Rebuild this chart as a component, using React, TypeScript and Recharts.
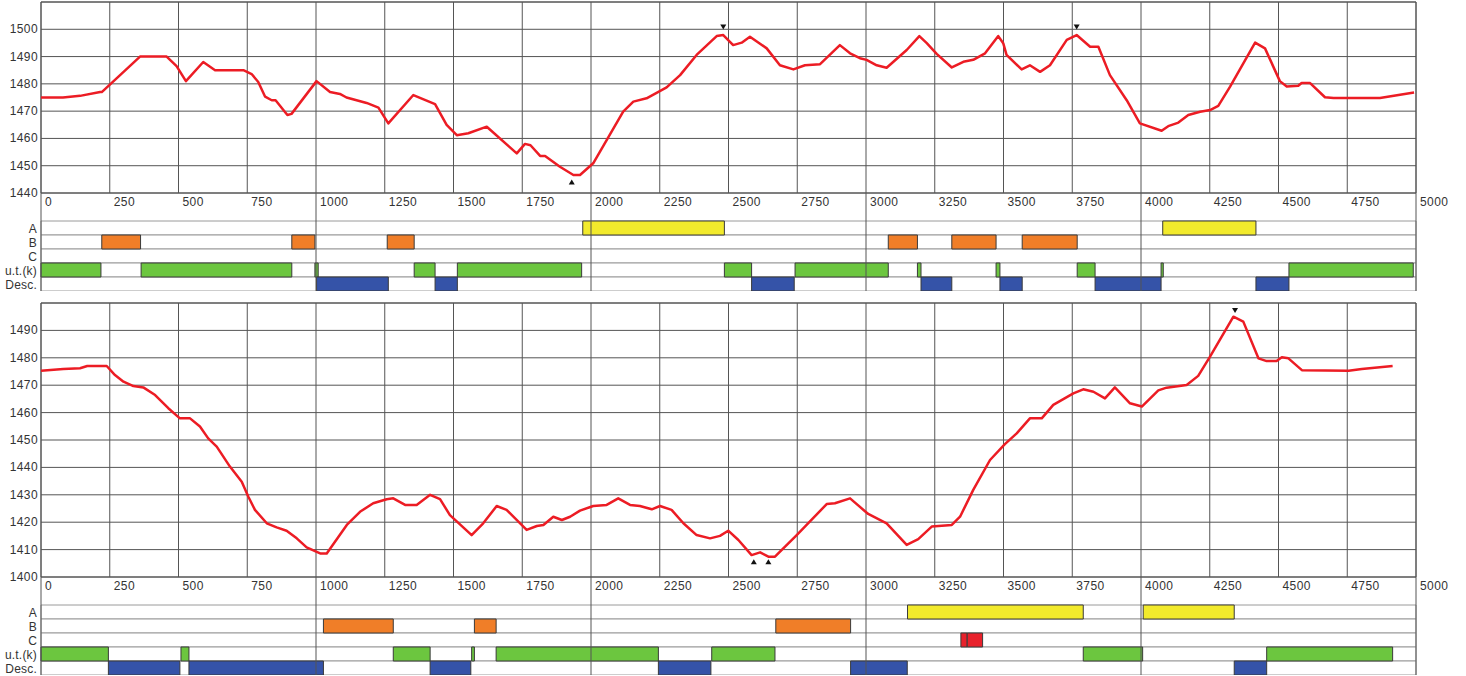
import React from "react";
import { ComposedChart, Line, Scatter, XAxis, YAxis, CartesianGrid, ReferenceArea, ReferenceLine } from "recharts";

// x axis (distance) ticks, shared by both panels
const xTicks = [0, 250, 500, 750, 1000, 1250, 1500, 1750, 2000, 2250, 2500, 2750, 3000, 3250, 3500, 3750, 4000, 4250, 4500, 4750, 5000];
const majorTicks = [0, 1000, 2000, 3000, 4000, 5000];

const topYTicks = [1440, 1450, 1460, 1470, 1480, 1490, 1500];
const bottomYTicks = [1400, 1410, 1420, 1430, 1440, 1450, 1460, 1470, 1480, 1490];

const rowNames = ["A", "B", "C", "u.t.(k)", "Desc."];
const rowTicks = [2.5, 3.5, 4.5, 5.5, 6.5];

// [x, value]
const topLine: [number, number][] = [
  [0, 1475], [80, 1475], [142, 1475.6], [215, 1477], [221, 1477], [360, 1490], [457, 1490], [493, 1486.5],
  [527, 1481], [590, 1488], [633, 1485], [736, 1485], [766, 1483.6], [790, 1480.7], [815, 1475.3], [839, 1474],
  [853, 1474], [896, 1468.6], [911, 1469], [1002, 1481], [1051, 1477], [1087, 1476.3], [1111, 1475], [1184, 1473],
  [1227, 1471.3], [1263, 1465.5], [1354, 1475.9], [1433, 1472.6], [1475, 1465], [1512, 1461.2], [1554, 1461.9],
  [1621, 1464.3], [1730, 1454.5], [1760, 1458], [1780, 1457.5], [1815, 1453.6], [1833, 1453.6], [1887, 1449.6],
  [1936, 1446.6], [1960, 1446.6], [2008, 1450.9], [2117, 1469.8], [2154, 1473.5], [2202, 1474.7], [2275, 1478.7],
  [2324, 1483.2], [2384, 1490.6], [2457, 1497.5], [2481, 1497.9], [2517, 1494.2], [2548, 1495.1], [2578, 1497.3],
  [2639, 1493], [2687, 1486.8], [2736, 1485.3], [2778, 1486.8], [2833, 1487.2], [2905, 1494.2], [2942, 1491.2],
  [2978, 1489.4], [3002, 1488.8], [3039, 1486.8], [3075, 1485.9], [3148, 1492.4], [3194, 1497.5], [3221, 1494.9],
  [3257, 1491], [3312, 1486], [3354, 1488.1], [3390, 1488.8], [3433, 1491.2], [3481, 1497.5], [3499, 1494.9],
  [3511, 1490.6], [3566, 1485.3], [3596, 1486.8], [3633, 1484.4], [3669, 1486.8], [3730, 1496.1], [3766, 1497.9],
  [3815, 1493.6], [3845, 1493.6], [3887, 1483.2], [3948, 1474], [3996, 1465.5], [4075, 1462.8], [4099, 1464.5],
  [4136, 1465.8], [4172, 1468.6], [4215, 1469.8], [4251, 1470.4], [4281, 1471.9], [4324, 1479], [4415, 1495.1],
  [4451, 1493], [4505, 1481], [4530, 1479], [4572, 1479.3], [4584, 1480.3], [4615, 1480.3], [4669, 1475.1],
  [4700, 1474.8], [4869, 1474.8], [4942, 1476], [4993, 1476.8],
];

const bottomLine: [number, number][] = [
  [0, 1475.3], [81, 1475.9], [142, 1476.2], [168, 1477], [239, 1477], [269, 1473.7], [300, 1471.3], [336, 1469.7],
  [372, 1469.2], [415, 1466.4], [463, 1461.6], [505, 1457.9], [542, 1457.9], [578, 1454.9], [608, 1450.6],
  [639, 1447.6], [687, 1440.3], [730, 1434.8], [754, 1429.3], [778, 1424.5], [821, 1419.6], [857, 1418.1],
  [893, 1416.9], [930, 1414.1], [966, 1410.8], [1015, 1408.6], [1039, 1408.6], [1112, 1419], [1160, 1423.8],
  [1208, 1426.9], [1257, 1428.4], [1281, 1428.7], [1324, 1426.3], [1366, 1426.3], [1415, 1430], [1451, 1428.4],
  [1487, 1422.6], [1566, 1415.3], [1608, 1419.6], [1657, 1425.9], [1693, 1424.5], [1766, 1417.2], [1803, 1418.6],
  [1827, 1419], [1863, 1422], [1894, 1420.8], [1924, 1422], [1960, 1424.2], [2008, 1425.9], [2057, 1426.3],
  [2099, 1428.7], [2142, 1426.3], [2178, 1425.9], [2221, 1424.7], [2251, 1425.9], [2293, 1424.5], [2336, 1419.6],
  [2384, 1415.3], [2433, 1414.1], [2469, 1415], [2499, 1416.9], [2536, 1413.5], [2584, 1408], [2615, 1409],
  [2645, 1407.4], [2669, 1407.4], [2748, 1415.3], [2857, 1426.6], [2887, 1426.9], [2942, 1428.7], [3008, 1423],
  [3075, 1419.6], [3148, 1411.7], [3190, 1413.8], [3239, 1418.4], [3312, 1419], [3342, 1422], [3390, 1431.8],
  [3451, 1442.7], [3505, 1448.5], [3548, 1452.4], [3596, 1457.9], [3639, 1457.9], [3681, 1462.8], [3754, 1467],
  [3790, 1468.5], [3827, 1467.6], [3869, 1465.2], [3905, 1469.2], [3960, 1463.4], [4003, 1462.2], [4063, 1468.1],
  [4093, 1469.1], [4166, 1470.1], [4208, 1473.4], [4251, 1480.4], [4336, 1495], [4372, 1493.2], [4427, 1479.8],
  [4457, 1478.8], [4493, 1478.8], [4512, 1480.2], [4536, 1479.8], [4585, 1475.5], [4755, 1475.3], [4803, 1475.9],
  [4915, 1477],
];

const topMarkers = [
  { x: 2481, v: 1500.8, dir: "down" },
  { x: 3766, v: 1500.8, dir: "down" },
  { x: 1930, v: 1444, dir: "up" },
];
const bottomMarkers = [
  { x: 4342, v: 1497.3, dir: "down" },
  { x: 2592, v: 1405.6, dir: "up" },
  { x: 2645, v: 1405.6, dir: "up" },
];

// track segments [start, end]
const topA = [[1970, 2485], [4079, 4418]];
const topB = [[221, 362], [912, 996], [1259, 1357], [3081, 3187], [3312, 3473], [3568, 3768]];
const topC: number[][] = [];
const topUt = [[0, 218], [364, 912], [996, 1008], [1357, 1433], [1514, 1966], [2485, 2584], [2742, 3081], [3187, 3200], [3473, 3487], [3768, 3833], [4073, 4081], [4538, 4990]];
const topDesc = [[1002, 1263], [1433, 1514], [2584, 2739], [3200, 3312], [3487, 3568], [3833, 4073], [4418, 4538]];

const bottomA = [[3151, 3790], [4008, 4339]];
const bottomB = [[1027, 1281], [1576, 1655], [2672, 2944]];
const bottomC = [[3345, 3368], [3368, 3424]];
const bottomUt = [[0, 245], [509, 538], [1281, 1415], [1566, 1576], [1655, 2245], [2439, 2669], [3790, 4006], [4457, 4915]];
const bottomDesc = [[245, 505], [538, 1027], [1415, 1563], [2245, 2436], [2944, 3150], [4339, 4457]];

const rowColors = ["#f2ea2c", "#f07e28", "#e8222c", "#6cc63f", "#3553a8"];

const FONT = '"Liberation Sans", Arial, sans-serif';

const XTick = (props: any) => (
  <text x={props.x + 4} y={props.y + 13} textAnchor="start" fontFamily={FONT} fontSize={12} letterSpacing={0.4} fill="#333">
    {props.payload.value}
  </text>
);

const YTick = (props: any) => (
  <text x={props.x} y={props.y + 4} textAnchor="end" fontFamily={FONT} fontSize={12} letterSpacing={0.4} fill="#333">
    {props.payload.value}
  </text>
);

const RowTick = (props: any) => (
  <text x={props.x} y={props.y + 5} textAnchor="end" fontFamily={FONT} fontSize={12} letterSpacing={0.2} fill="#333">
    {rowNames[props.payload.value - 2.5]}
  </text>
);

const Marker = (props: any) => {
  const { cx, cy, payload } = props;
  const pts = payload.dir === "down"
    ? `${cx - 3},${cy - 2.5} ${cx + 3},${cy - 2.5} ${cx},${cy + 2.5}`
    : `${cx - 3},${cy + 2.5} ${cx + 3},${cy + 2.5} ${cx},${cy - 2.5}`;
  return <polygon points={pts} fill="#111" />;
};

type PanelProps = {
  top: number;
  plotHeight: number;
  line: [number, number][];
  yDomain: [number, number];
  yTicks: number[];
  markers: { x: number; v: number; dir: string }[];
  tracks: number[][][];
};

function Panel({ top, plotHeight, line, yDomain, yTicks, markers, tracks }: PanelProps) {
  const lineData = line.map(([x, v]) => ({ x, v }));
  return (
    <>
      <div style={{ position: "absolute", left: 0, top: top + 2 + plotHeight, zIndex: 0 }}>
        <ComposedChart width={1466} height={98} margin={{ top: 0, right: 50, bottom: 0, left: 0 }}>
          <XAxis type="number" dataKey="x" domain={[0, 5000]} hide allowDataOverflow />
          <YAxis
            type="number"
            domain={[0, 7]}
            reversed
            allowDataOverflow
            width={41}
            ticks={rowTicks}
            interval={0}
            axisLine={false}
            tickLine={false}
            tickSize={0}
            tickMargin={4}
            tick={<RowTick />}
          />
          {rowNames.map((name, i) => (
            <ReferenceArea key={name} x1={0} x2={5000} y1={i + 2} y2={i + 3} fill="#fff" fillOpacity={1} stroke="#9a9a9a" />
          ))}
          {majorTicks.map((t) => (
            <ReferenceLine key={t} x={t} stroke="#555" />
          ))}
          {tracks.map((segs, i) =>
            segs.map(([s, e], j) => (
              <ReferenceArea
                key={`${i}-${j}`}
                x1={s}
                x2={e}
                y1={i + 2}
                y2={i + 3}
                fill={rowColors[i]}
                fillOpacity={1}
                stroke="#3a3a3a"
              />
            ))
          )}
        </ComposedChart>
      </div>
      <div style={{ position: "absolute", left: 0, top, zIndex: 1 }}>
        <ComposedChart width={1466} height={2 + plotHeight + 28} margin={{ top: 2, right: 50, bottom: 0, left: 0 }}>
          <CartesianGrid stroke="#555" />
          <XAxis
            type="number"
            dataKey="x"
            domain={[0, 5000]}
            ticks={xTicks}
            interval={0}
            allowDataOverflow
            height={28}
            axisLine={false}
            tickLine={false}
            tickSize={0}
            tickMargin={0}
            tick={<XTick />}
          />
          <YAxis
            type="number"
            dataKey="v"
            domain={yDomain}
            ticks={yTicks}
            interval={0}
            allowDataOverflow
            width={41}
            axisLine={false}
            tickLine={false}
            tickSize={0}
            tickMargin={3}
            tick={<YTick />}
          />
          <ReferenceArea x1={0} x2={5000} y1={yDomain[0]} y2={yDomain[1]} fill="none" stroke="#555" />
          <Line
            data={lineData}
            dataKey="v"
            type="linear"
            stroke="#ec1c24"
            strokeWidth={2.5}
            strokeLinejoin="round"
            dot={false}
            activeDot={false}
            isAnimationActive={false}
          />
          <Scatter data={markers} dataKey="v" shape={<Marker />} isAnimationActive={false} />
        </ComposedChart>
      </div>
    </>
  );
}

export default function App() {
  return (
    <div style={{ position: "absolute", left: 0, top: 0, width: 1466, height: 676, background: "#fff", overflow: "hidden" }}>
      <Panel
        top={0}
        plotHeight={191}
        line={topLine}
        yDomain={[1440, 1510]}
        yTicks={topYTicks}
        markers={topMarkers}
        tracks={[topA, topB, topC, topUt, topDesc]}
      />
      <Panel
        top={301}
        plotHeight={274}
        line={bottomLine}
        yDomain={[1400, 1500]}
        yTicks={bottomYTicks}
        markers={bottomMarkers}
        tracks={[bottomA, bottomB, bottomC, bottomUt, bottomDesc]}
      />
    </div>
  );
}
